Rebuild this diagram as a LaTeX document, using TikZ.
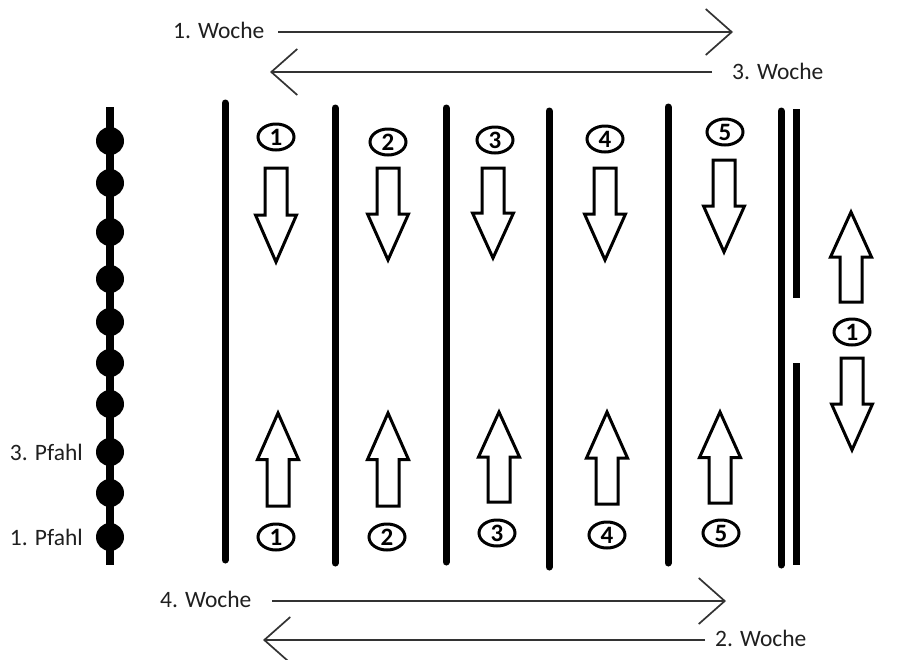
\documentclass[tikz,border=0pt]{standalone}
\usepackage{fontspec}
\setmainfont{Carlito}
\usetikzlibrary{arrows.meta,shapes.geometric}
\newcommand\blkarrow[3]{% x, shaft end, tip
  \draw[blk] ({#1-11},#2) -- ({#1+11},#2) -- ({#1+11},{(#2+#3)/2}) -- ({#1+20.5},{(#2+#3)/2}) -- (#1,#3) -- ({#1-20.5},{(#2+#3)/2}) -- ({#1-11},{(#2+#3)/2}) -- cycle;}
\begin{document}
\begin{tikzpicture}[x=1pt,y=-1pt,
  lane/.style={line width=7pt,line cap=round},
  num/.style={draw,line width=3pt,ellipse,minimum width=36pt,minimum height=26pt,inner sep=0pt,font=\fontsize{25}{25}\selectfont\bfseries},
  lbl/.style={inner sep=0pt,font=\fontsize{23.5}{23.5}\selectfont,text=black!88},
  week/.style={line width=1.7pt,draw=black!80,-{Straight Barb[length=26pt,width=46pt]}},
  blk/.style={draw,line width=3pt,fill=white,miter limit=10},
  dot/.style={circle,fill=black,minimum size=28pt,inner sep=0pt}
]
\useasboundingbox[fill=white] (0,0) rectangle (901,659);

% week arrows
\node[lbl,anchor=base west] (w1) at (173,38) {1. Woche};
\coordinate (w1s) at (278,32); \coordinate (w1e) at (733,32);
\draw[week] (w1s) -- (w1e);
\node[lbl,anchor=base west] (w3) at (732,79) {3. Woche};
\coordinate (w3s) at (712,72); \coordinate (w3e) at (270,72);
\draw[week] (w3s) -- (w3e);
\node[lbl,anchor=base west] (w4) at (160,607) {4. Woche};
\coordinate (w4s) at (272,601); \coordinate (w4e) at (726,601);
\draw[week] (w4s) -- (w4e);
\node[lbl,anchor=base west] (w2) at (715,646) {2. Woche};
\coordinate (w2s) at (705,640); \coordinate (w2e) at (263,640);
\draw[week] (w2s) -- (w2e);

% pole
\coordinate (pt) at (110,107); \coordinate (pb) at (110,565);
\draw[line width=8pt] (pt) -- (pb);
\foreach \y [count=\i] in {141,183,232,279,322,363,404,452,493,537}
  \node[dot] (d\i) at (110,\y) {};
\node[lbl,anchor=base east] (p3) at (83,460) {3. Pfahl};
\node[lbl,anchor=base east] (p1) at (83,545) {1. Pfahl};

% lanes
\coordinate (l1t) at (225,103); \coordinate (l1b) at (225,560);
\coordinate (l2t) at (335,108); \coordinate (l2b) at (335,563);
\coordinate (l3t) at (446,108); \coordinate (l3b) at (446,562);
\coordinate (l4t) at (549,111); \coordinate (l4b) at (549,567);
\coordinate (l5t) at (668,107); \coordinate (l5b) at (668,563);
\coordinate (l6t) at (781,111); \coordinate (l6b) at (781,565);
\coordinate (l7t) at (796,109); \coordinate (l7m) at (796,298);
\coordinate (l7n) at (796,363); \coordinate (l7b) at (796,565);
\draw[lane] (l1t) -- (l1b);
\draw[lane] (l2t) -- (l2b);
\draw[lane] (l3t) -- (l3b);
\draw[lane] (l4t) -- (l4b);
\draw[lane] (l5t) -- (l5b);
\draw[lane] (l6t) -- (l6b);
\draw[lane,line cap=butt] (l7t) -- (l7m);
\draw[lane,line cap=butt] (l7n) -- (l7b);

% numbers
\node[num] (t1) at (276,137) {1};
\node[num] (t2) at (388,142) {2};
\node[num] (t3) at (495,140) {3};
\node[num] (t4) at (605,139) {4};
\node[num] (t5) at (725,132) {5};
\node[num] (b1) at (276,537) {1};
\node[num] (b2) at (387,537) {2};
\node[num] (b3) at (497,533) {3};
\node[num] (b4) at (607,535) {4};
\node[num] (b5) at (721,533) {5};
\node[num] (r1) at (852,332) {1};

% block arrows
\blkarrow{276}{168}{262}
\blkarrow{388}{168}{260}
\blkarrow{493}{168}{258}
\blkarrow{605}{168}{260}
\blkarrow{724}{160}{252}
\blkarrow{852}{358}{450}
\blkarrow{278}{506}{413}
\blkarrow{388}{506}{413}
\blkarrow{499}{502}{412}
\blkarrow{607}{504}{412}
\blkarrow{720}{503}{412}
\blkarrow{851}{302}{212}
\end{tikzpicture}
\end{document}
